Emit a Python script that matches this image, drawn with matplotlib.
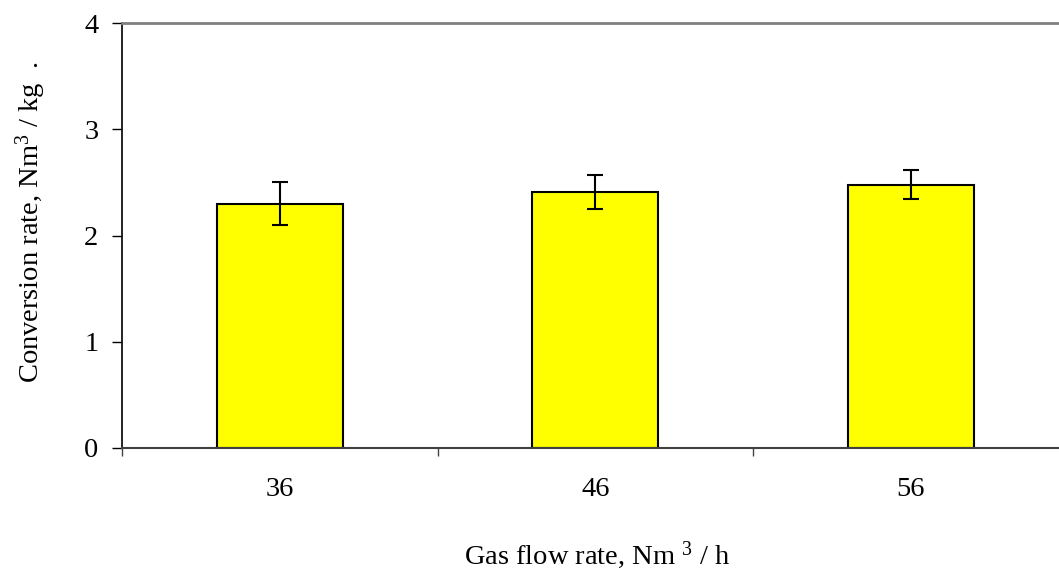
import matplotlib
matplotlib.use("Agg")
import matplotlib.pyplot as plt
import numpy as np

plt.rcParams['font.family'] = ['Liberation Serif', 'DejaVu Serif']
plt.rcParams['mathtext.fontset'] = 'custom'
plt.rcParams['mathtext.rm'] = 'Liberation Serif'
plt.rcParams['mathtext.it'] = 'Liberation Serif'

# data
flow_rates = ['36', '46', '56']
conversion = [2.30, 2.41, 2.48]
errors = [0.20, 0.16, 0.14]

fig = plt.figure(figsize=(10.59, 5.71), dpi=100)
ax = fig.add_axes([0.1152, 0.2159, 0.8938, 0.7433])

x = np.arange(len(flow_rates))
ax.bar(x, conversion, width=0.40, color='#FFFF00', edgecolor='black', linewidth=1.5,
       yerr=errors, capsize=5.5, error_kw=dict(elinewidth=1.5, capthick=1.5, ecolor='black'))

ax.set_xlim(-0.5, len(flow_rates) - 0.5)
ax.set_ylim(0, 4)
ax.set_yticks([0, 1, 2, 3, 4])

# category labels at bar centres, tick marks at category boundaries
ax.set_xticks(x)
ax.set_xticklabels(flow_rates, fontsize=20.5)
ax.tick_params(axis='x', which='major', length=0, pad=21)
ax.set_xticks(np.arange(-0.5, len(flow_rates)), minor=True)
ax.tick_params(axis='x', which='minor', length=6, width=1, color='#444444', direction='out')
ax.tick_params(axis='y', labelsize=20.5, length=7, width=1, pad=10, direction='out')

ax.spines['right'].set_visible(False)
ax.spines['top'].set_color('#808080')
ax.spines['top'].set_linewidth(2)
ax.spines['bottom'].set_color('#404040')
ax.spines['bottom'].set_linewidth(1.5)
ax.spines['left'].set_linewidth(1.2)

fig.text(31 / 1059, 1 - 222 / 571, 'Conversion rate, Nm$^3$ / kg  .', fontsize=20.5,
         rotation=90, ha='center', va='center')
fig.text(597 / 1059, 1 - 564 / 571, 'Gas flow rate, Nm $^3$ / h', fontsize=20.5,
         ha='center', va='baseline')

fig.savefig('out.png', dpi=100)
